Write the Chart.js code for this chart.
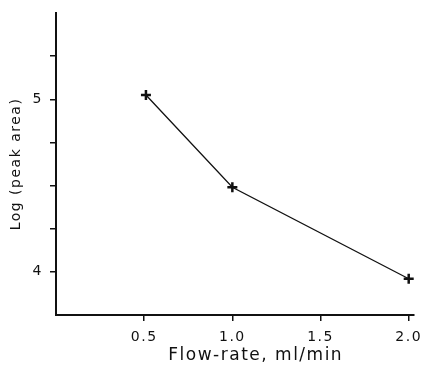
<!DOCTYPE html>
<html>
<head>
<meta charset="utf-8">
<script src="https://cdn.jsdelivr.net/npm/chart.js@4"></script>
<style>
  html, body { margin: 0; padding: 0; background: #fff; }
  #wrap { width: 426px; height: 366px; }
</style>
</head>
<body>
<div id="wrap"><canvas id="chart"></canvas></div>
<script>
// flow-rate (ml/min) and log of peak area
const flowRates = [0.51, 1.0, 2.0];
const logPeakArea = [5.025, 4.49, 3.96];

// tick positions on each axis
const xTicks = [0.5, 1.0, 1.5, 2.0];
const yTicks = [4.0, 4.25, 4.5, 4.75, 5.0, 5.25];
const yLabelled = [4, 5];

Chart.defaults.font.family = "'DejaVu Sans', sans-serif";
Chart.defaults.color = "#111";

// spread the letters a little, like the typed figure
const spacing = {
  id: "spacing",
  beforeDraw(chart) { chart.ctx.letterSpacing = "1.5px"; }
};

const points = flowRates.map((x, i) => ({ x: x, y: logPeakArea[i] }));

new Chart(document.getElementById("chart"), {
  type: "scatter",
  data: {
    datasets: [{
      data: points,
      showLine: true,
      borderColor: "#111",
      borderWidth: 1.3,
      pointStyle: "cross",
      pointRadius: 5,
      pointBorderWidth: 2.5,
      pointBorderColor: "#111",
      clip: false
    }]
  },
  plugins: [spacing],
  options: {
    responsive: true,
    maintainAspectRatio: false,
    animation: false,
    layout: { padding: { top: 13, right: 12, left: 0, bottom: 0 } },
    plugins: { legend: { display: false }, tooltip: { enabled: false } },
    scales: {
      x: {
        type: "linear",
        min: 0,
        max: 2.03,
        afterBuildTicks(scale) { scale.ticks = xTicks.map(v => ({ value: v })); },
        afterFit(scale) {
          scale.height = 51;
          scale.paddingLeft = 0;
          scale.paddingRight = 0;
        },
        border: { display: true, color: "#111", width: 2 },
        grid: { display: true, drawOnChartArea: false, color: "#111", lineWidth: 1.5, tickLength: 6 },
        ticks: {
          padding: 8,
          font: { size: 14 },
          callback: v => Number(v).toFixed(1)
        },
        title: {
          display: true,
          text: "      Flow-rate, ml/min",
          font: { size: 17 },
          padding: { top: 0, bottom: 0 }
        }
      },
      y: {
        type: "linear",
        min: 3.75,
        max: 5.5,
        afterBuildTicks(scale) { scale.ticks = yTicks.map(v => ({ value: v })); },
        afterFit(scale) {
          scale.width = 56;
          scale.paddingTop = 0;
          scale.paddingBottom = 0;
        },
        border: { display: true, color: "#111", width: 2 },
        grid: { display: true, drawOnChartArea: false, color: "#111", lineWidth: 1.5, tickLength: 6 },
        ticks: {
          padding: 7,
          font: { size: 14 },
          callback: v => yLabelled.includes(v) ? String(v) : ""
        },
        title: {
          display: true,
          text: "Log (peak area)",
          font: { size: 14 },
          padding: { top: 8, bottom: 0 }
        }
      }
    }
  }
});
</script>
</body>
</html>
